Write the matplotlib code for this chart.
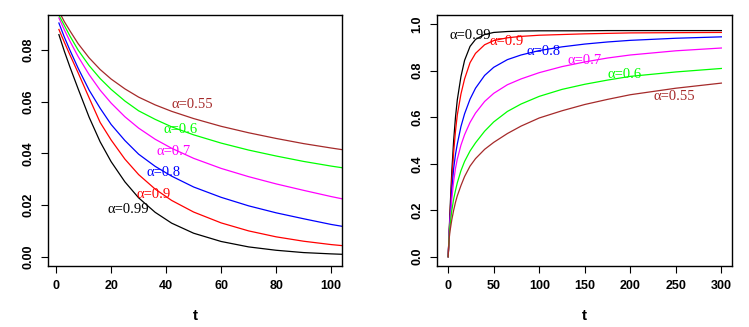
import numpy as np
import matplotlib.pyplot as plt

# alpha values and colours (R style)
alphas = ['0.99', '0.9', '0.8', '0.7', '0.6', '0.55']
colors = ['black', 'red', 'blue', 'magenta', '#00ff00', '#a52a2a']

# left panel: decreasing curves
t_left = [1, 3, 5, 8, 12, 16, 20, 25, 30, 36, 42, 50, 60, 70, 80, 90, 100, 105]
left_099 = [0.0860, 0.0795, 0.0735, 0.0650, 0.0540, 0.0445, 0.0368, 0.0290, 0.0228, 0.0172,
            0.0130, 0.0091, 0.0059, 0.0038, 0.0025, 0.0016, 0.0011, 0.0009]
left_09 = [0.0880, 0.0830, 0.0782, 0.0712, 0.0615, 0.0520, 0.0452, 0.0378, 0.0318, 0.0262,
           0.0218, 0.0173, 0.0131, 0.0100, 0.0077, 0.0060, 0.0047, 0.0042]
left_08 = [0.0905, 0.0850, 0.0800, 0.0730, 0.0645, 0.0575, 0.0512, 0.0450, 0.0397, 0.0350,
           0.0312, 0.0270, 0.0230, 0.0197, 0.0170, 0.0147, 0.0125, 0.0116]
left_07 = [0.0925, 0.0878, 0.0835, 0.0775, 0.0705, 0.0645, 0.0595, 0.0542, 0.0498, 0.0455,
           0.0420, 0.0381, 0.0342, 0.0310, 0.0282, 0.0257, 0.0233, 0.0222]
left_06 = [0.0935, 0.0895, 0.0855, 0.0800, 0.0740, 0.0690, 0.0648, 0.0603, 0.0565, 0.0532,
           0.0503, 0.0472, 0.0440, 0.0413, 0.0390, 0.0369, 0.0351, 0.0343]
left_055 = [0.0950, 0.0910, 0.0875, 0.0825, 0.0770, 0.0725, 0.0688, 0.0650, 0.0618, 0.0588,
            0.0563, 0.0535, 0.0505, 0.0480, 0.0458, 0.0438, 0.0421, 0.0413]

# right panel: increasing curves
t_right = [0, 1, 2, 4, 6, 8, 10, 14, 18, 24, 30, 40, 50, 65, 80, 100, 125, 150, 175, 200, 250, 300]
right_099 = [0, 0.10, 0.20, 0.37, 0.50, 0.60, 0.675, 0.775, 0.845, 0.905, 0.935, 0.956, 0.965,
             0.969, 0.971, 0.972, 0.972, 0.972, 0.973, 0.973, 0.973, 0.973]
right_09 = [0, 0.10, 0.18, 0.33, 0.45, 0.54, 0.61, 0.70, 0.765, 0.835, 0.875, 0.912, 0.930,
            0.942, 0.948, 0.953, 0.956, 0.959, 0.961, 0.963, 0.964, 0.965]
right_08 = [0, 0.095, 0.165, 0.29, 0.38, 0.44, 0.485, 0.56, 0.615, 0.678, 0.725, 0.78, 0.815,
            0.848, 0.868, 0.887, 0.903, 0.915, 0.924, 0.931, 0.940, 0.946]
right_07 = [0, 0.09, 0.15, 0.25, 0.325, 0.38, 0.42, 0.48, 0.525, 0.578, 0.618, 0.668, 0.703,
            0.740, 0.765, 0.792, 0.818, 0.838, 0.855, 0.868, 0.886, 0.898]
right_06 = [0, 0.085, 0.135, 0.20, 0.248, 0.285, 0.318, 0.37, 0.41, 0.455, 0.49, 0.54, 0.58,
            0.625, 0.657, 0.690, 0.720, 0.742, 0.760, 0.776, 0.795, 0.810]
right_055 = [0, 0.075, 0.11, 0.16, 0.20, 0.234, 0.262, 0.306, 0.345, 0.39, 0.422, 0.462, 0.492,
             0.530, 0.562, 0.597, 0.628, 0.655, 0.677, 0.697, 0.725, 0.747]

left_curves = [left_099, left_09, left_08, left_07, left_06, left_055]
right_curves = [right_099, right_09, right_08, right_07, right_06, right_055]

# label positions (t, value)
left_lab_t = [26.3, 35.3, 39.2, 42.7, 45.1, 49.6]
left_lab_v = [0.0181, 0.0242, 0.0326, 0.0408, 0.0492, 0.0589]
right_lab_t = [24, 64.6, 104.2, 149.6, 193.7, 248.7]
right_lab_v = [0.953, 0.924, 0.885, 0.845, 0.784, 0.690]

fig = plt.figure(figsize=(7.49, 3.27), dpi=100)
ax1 = fig.add_axes([0.0641, 0.1865, 0.3925, 0.7676])
ax2 = fig.add_axes([0.5838, 0.1865, 0.3939, 0.7676])

for c, y in zip(colors, left_curves):
    ax1.plot(t_left, y, color=c, linewidth=0.9)
for c, y in zip(colors, right_curves):
    ax2.plot(t_right, y, color=c, linewidth=0.9)

for a, c, x, y in zip(alphas, colors, left_lab_t, left_lab_v):
    ax1.text(x, y, '\u03b1=' + a, color=c, ha='center', va='center',
             family='Liberation Serif', fontsize=10.5)
for a, c, x, y in zip(alphas, colors, right_lab_t, right_lab_v):
    ax2.text(x, y, '\u03b1=' + a, color=c, ha='center', va='center',
             family='Liberation Serif', fontsize=10.5)

# axis ranges like R (4% extension)
ax1.set_xlim(1 - 0.04 * 99, 100 + 0.04 * 99)
ax1.set_ylim(-0.0036, 0.0936)
ax1.set_xticks([0, 20, 40, 60, 80, 100])
ax1.set_yticks([0.00, 0.02, 0.04, 0.06, 0.08])
ax1.set_yticklabels(['0.00', '0.02', '0.04', '0.06', '0.08'])

ax2.set_xlim(-12, 312)
ax2.set_ylim(-0.04, 1.04)
ax2.set_xticks([0, 50, 100, 150, 200, 250, 300])
ax2.set_yticks([0.0, 0.2, 0.4, 0.6, 0.8, 1.0])
ax2.set_yticklabels(['0.0', '0.2', '0.4', '0.6', '0.8', '1.0'])

for ax in (ax1, ax2):
    for s in ax.spines.values():
        s.set_linewidth(1.0)
    ax.tick_params(length=5, width=0.8, pad=5, labelsize=9)
    for lab in ax.get_xticklabels() + ax.get_yticklabels():
        lab.set_fontweight('bold')
        lab.set_family('Liberation Sans')
    for lab in ax.get_yticklabels():
        lab.set_rotation(90)
        lab.set_va('center')
    ax.set_xlabel('t', fontsize=11, fontweight='bold', family='Liberation Sans', va='center')
    ax.xaxis.set_label_coords(0.5, -0.2)

fig.savefig('out.png', dpi=100)
